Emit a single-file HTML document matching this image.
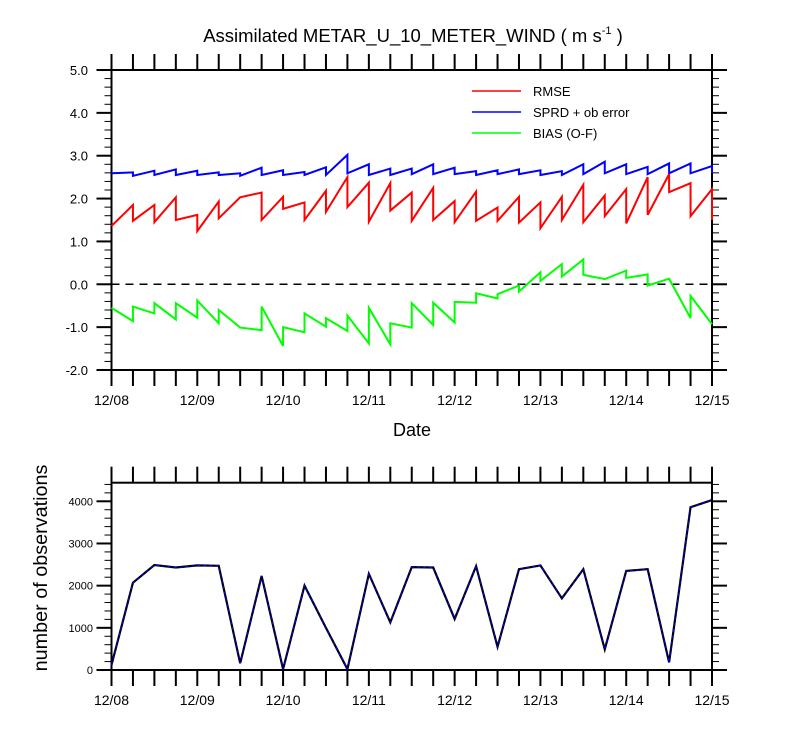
<!DOCTYPE html>
<html><head><meta charset="utf-8"><style>
html,body{margin:0;padding:0;background:#fff;}
svg{display:block;font-family:"Liberation Sans",Arial,sans-serif;}
</style></head><body>
<svg id="chart" width="800" height="750"></svg>
<script>
const dayLabels = ["12/08","12/09","12/10","12/11","12/12","12/13","12/14","12/15"];
const yTicksTop = [5,4,3,2,1,0,-1,-2];
const yTicksBottom = [0,1000,2000,3000,4000];
// values per 6-h cycle (29 times): prior = value arriving at time, post = value leaving time
const rmsePrior = [1.36,1.85,1.85,2.03,1.62,1.93,2.03,2.14,2.04,1.91,2.18,2.50,2.37,2.36,2.14,2.25,1.94,2.16,1.79,2.04,1.91,2.04,2.32,2.07,2.22,2.50,2.57,2.36,2.22];
const rmsePost  = [1.36,1.48,1.45,1.50,1.24,1.54,2.03,1.50,1.76,1.50,1.69,1.80,1.46,1.72,1.48,1.50,1.45,1.48,1.48,1.44,1.31,1.50,1.45,1.59,1.42,1.62,2.15,1.59,1.50];
const sprdPrior = [2.59,2.61,2.65,2.68,2.65,2.61,2.59,2.72,2.66,2.62,2.73,3.02,2.80,2.70,2.70,2.80,2.72,2.64,2.66,2.68,2.66,2.64,2.80,2.86,2.80,2.74,2.82,2.82,2.76];
const sprdPost  = [2.59,2.53,2.55,2.55,2.55,2.55,2.53,2.55,2.55,2.55,2.55,2.59,2.55,2.55,2.57,2.57,2.57,2.55,2.57,2.57,2.55,2.55,2.57,2.59,2.57,2.57,2.59,2.59,2.59];
const biasPrior = [-0.55,-0.86,-0.68,-0.82,-0.78,-0.91,-1.01,-1.07,-1.44,-1.12,-0.99,-1.09,-1.38,-1.40,-1.01,-0.95,-0.89,-0.43,-0.33,-0.03,0.28,0.47,0.58,0.12,0.32,0.23,0.13,-0.79,-0.93];
const biasPost  = [-0.55,-0.52,-0.44,-0.44,-0.38,-0.60,-1.01,-0.52,-1.00,-0.68,-0.79,-0.73,-0.55,-0.91,-0.44,-0.43,-0.41,-0.21,-0.23,-0.17,0.08,0.18,0.22,0.12,0.15,-0.03,0.13,-0.27,-0.93];
const obsCount = [120,2070,2490,2430,2480,2470,160,2230,20,2000,1000,20,2280,1130,2440,2430,1210,2460,550,2390,2480,1700,2390,490,2350,2390,180,3860,4030];

const NS="http://www.w3.org/2000/svg";
const svg=document.getElementById('chart');
function mk(tag,attrs,parent){const e=document.createElementNS(NS,tag);for(const k in attrs)e.setAttribute(k,attrs[k]);(parent||svg).appendChild(e);return e;}
const X0=111.5,X1=712;
const nT=obsCount.length-1;
function xAt(i){return X0+(X1-X0)*i/nT;}
const TT=70,TB=370;
function yTop(v){return TT+(5-v)*(TB-TT)/7;}
const BT=482.7,BB=670;
function yBot(v){return BB-v*(BB-501.3)/4000;}

function drawFrame(top,bottom,name){
  const r=mk('rect',{x:X0,y:top,width:X1-X0,height:bottom-top,fill:'none',stroke:'#000','stroke-width':2});
  
  for(let i=0;i<=nT;i++){
    const x=xAt(i);
    const t1=mk('line',{x1:x,x2:x,y1:top,y2:top-16,stroke:'#000','stroke-width':2});
    
    const t2=mk('line',{x1:x,x2:x,y1:bottom,y2:bottom+16,stroke:'#000','stroke-width':2});
    
  }
  dayLabels.forEach((d,k)=>{
    const t=mk('text',{x:xAt(k*4),y:bottom+35,'text-anchor':'middle','font-size':14});
    t.textContent=d;
    
  });
}
drawFrame(TT,TB,'top');
drawFrame(BT,BB,'bottom');

for(let v=-2;v<=5.0001;v+=0.2){
  const vv=Math.round(v*10)/10;const y=yTop(vv);
  const major=Math.abs(vv-Math.round(vv))<1e-6;
  const L=major?15:7;
  const a=mk('line',{x1:X0,x2:X0-L,y1:y,y2:y,stroke:'#000','stroke-width':major?2:1});
  
  const b=mk('line',{x1:X1,x2:X1+L,y1:y,y2:y,stroke:'#000','stroke-width':major?2:1});
  
}
yTicksTop.forEach(v=>{
  const t=mk('text',{x:88,y:yTop(v)+5,'text-anchor':'end','font-size':13});
  t.textContent=v.toFixed(1);
  
});
for(let v=0;v<=4400;v+=200){
  const y=yBot(v);if(y<BT-0.5)continue;
  const major=v%1000===0;const L=major?15:7;
  const a=mk('line',{x1:X0,x2:X0-L,y1:y,y2:y,stroke:'#000','stroke-width':major?2:1});
  
  const b=mk('line',{x1:X1,x2:X1+L,y1:y,y2:y,stroke:'#000','stroke-width':major?2:1});
  
}
yTicksBottom.forEach(v=>{
  const t=mk('text',{x:93,y:yBot(v)+4,'text-anchor':'end','font-size':11});
  t.textContent=String(v);
  
});

const z=mk('line',{x1:X0,x2:X1,y1:yTop(0),y2:yTop(0),stroke:'#000','stroke-width':1.5,'stroke-dasharray':'8,6'});


function sawPath(prior,post){
  let d='M'+xAt(0)+','+yTop(post[0]);
  for(let i=1;i<=nT;i++){d+=' L'+xAt(i)+','+yTop(prior[i])+' L'+xAt(i)+','+yTop(post[i]);}
  return d;
}
const series=[[sprdPrior,sprdPost,'#0000ff','sprd-line'],[rmsePrior,rmsePost,'#ff0000','rmse-line'],[biasPrior,biasPost,'#00ff00','bias-line']];
series.forEach(s=>{
  const p=mk('path',{d:sawPath(s[0],s[1]),fill:'none',stroke:s[2],'stroke-width':2,'stroke-linejoin':'miter'});
  
});

let od='';obsCount.forEach((v,i)=>{od+=(i?' L':'M')+xAt(i)+','+yBot(v);});
const o1=mk('path',{d:od,fill:'none',stroke:'#000','stroke-width':2.2});

const o2=mk('path',{d:od,fill:'none',stroke:'#0000ff','stroke-width':1.2,'stroke-dasharray':'3,3'});


const leg=[['RMSE','#ff0000',91],['SPRD + ob error','#0000ff',112],['BIAS (O-F)','#00ff00',133]];
leg.forEach(l=>{
  const ln=mk('line',{x1:472,x2:521,y1:l[2],y2:l[2],stroke:l[1],'stroke-width':1.5});
  
  const t=mk('text',{x:533,y:l[2]+5,'font-size':13});t.textContent=l[0];
  
});

const ti=mk('text',{x:413,y:42,'text-anchor':'middle','font-size':18.5});
ti.innerHTML='Assimilated METAR_U_10_METER_WIND ( m s<tspan dy="-8" font-size="11">-1</tspan><tspan dy="8"> )</tspan>';

const xt=mk('text',{x:412,y:436,'text-anchor':'middle','font-size':18});xt.textContent='Date';

const yt=mk('text',{x:0,y:0,'text-anchor':'middle','font-size':19.8,transform:'translate(47,568) rotate(-90)'});
yt.textContent='number of observations';

</script>
</body></html>
